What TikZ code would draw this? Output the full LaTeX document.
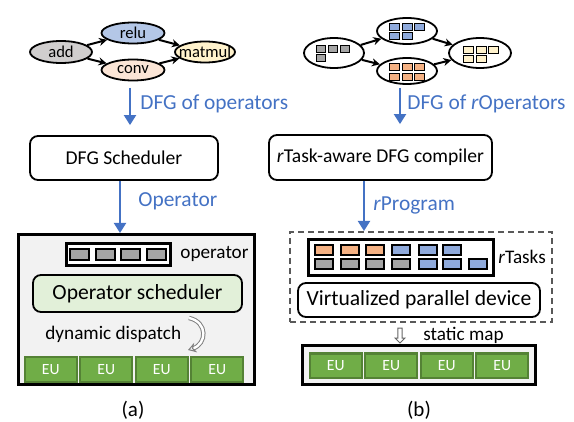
\documentclass[tikz,border=0pt]{standalone}
\usepackage{fontspec}
\setmainfont{Carlito}
\usetikzlibrary{arrows.meta,positioning,shapes.geometric,shapes.arrows,calc}
\definecolor{azulflecha}{RGB}{68,114,196}
\definecolor{grisop}{RGB}{165,165,165}
\definecolor{grisadd}{RGB}{208,206,206}
\definecolor{azulrelu}{RGB}{180,199,231}
\definecolor{rosaconv}{RGB}{251,229,214}
\definecolor{amarillomm}{RGB}{255,242,204}
\definecolor{naranja}{RGB}{244,177,131}
\definecolor{azultarea}{RGB}{143,170,220}
\definecolor{verdeeu}{RGB}{112,173,71}
\definecolor{verdeosc}{RGB}{84,130,53}
\definecolor{verdeclaro}{RGB}{226,240,217}
\definecolor{fondo}{RGB}{242,242,242}
\tikzset{
  caja/.style={rectangle,rounded corners=4pt,draw=black,line width=0.9pt,fill=white,
    align=center,inner sep=0pt,font=\fontsize{9.8}{11}\selectfont},
  elipse/.style={ellipse,draw=black,line width=0.9pt,inner sep=0pt,
    label={[font=\fontsize{8.3}{9}\selectfont]center:#1}},
  flecha/.style={-{Stealth[length=4pt,width=4pt]},black,line width=1pt},
  flechaazul/.style={-{Triangle[length=5pt,width=6pt]},azulflecha,line width=1pt},
  etiqueta/.style={text=azulflecha,font=\fontsize{10.7}{12}\selectfont,anchor=west,inner sep=0pt},
  texto/.style={font=\fontsize{9.6}{11}\selectfont,anchor=west,inner sep=0pt},
  panel/.style={rectangle,draw=black,line width=1.5pt,fill=fondo,inner sep=0pt},
  cola/.style={rectangle,draw=black,line width=1.5pt,fill=white,inner sep=0pt},
  cuadrito/.style={draw=black,line width=0.45pt},
  celda/.style={draw=black,line width=1pt},
  eu/.style={rectangle,fill=verdeeu,draw=verdeosc,line width=1.2pt,inner sep=0pt,
    minimum width=26pt,minimum height=12.3pt,text=white,font=\fontsize{7.8}{8}\selectfont},
  despacho/.style={draw=gray,double=white,double distance=1.2pt,line width=0.5pt,
    -{Stealth[open,length=4pt,width=5pt]}},
}
\begin{document}
\begin{tikzpicture}[x=0.5pt,y=-0.5pt]
  \useasboundingbox (0,0) rectangle (574,422);
  % (a) grafo de operadores
  \node[elipse=add,fill=grisadd,minimum width=31pt,minimum height=11pt] (add) at (61,52) {};
  \node[elipse=relu,fill=azulrelu,minimum width=31.5pt,minimum height=10.5pt] (relu) at (133,33) {};
  \node[elipse=conv,fill=rosaconv,minimum width=31.5pt,minimum height=10.5pt] (conv) at (133,70) {};
  \node[elipse=matmul,fill=amarillomm,minimum width=30pt,minimum height=10.5pt] (matmul) at (205,52) {};
  \draw[flecha] (add) -- (relu); \draw[flecha] (add) -- (conv);
  \draw[flecha] (relu) -- (matmul); \draw[flecha] (conv) -- (matmul);
  \coordinate (iniA) at (130,88);
  \node[caja,minimum width=94pt,minimum height=22pt] (sched) at (124,158) {DFG Scheduler};
  \draw[flechaazul,shorten >=5pt] (iniA) -- (iniA |- sched.north);
  \node[etiqueta] (labA) at (140,104) {DFG of operators};
  \node[panel,minimum width=118pt,minimum height=75pt] (panelA) at (136.5,309.5) {};
  \coordinate (ejeA) at (120,0);
  \draw[flechaazul] (sched.south -| ejeA) -- (panelA.north -| ejeA);
  \node[etiqueta] (labB) at (138,201) {Operator};
  \node[cola,minimum width=52pt,minimum height=11pt] (cola) at (118.5,254.5) {};
  \foreach \x in {70,96,121,147}
    \draw[celda,fill=grisop] (\x,249) rectangle ++(19,11);
  \node[texto] (opt) at (180,254) {operator};
  \node[caja,fill=verdeclaro,minimum width=104.5pt,minimum height=18.5pt,
    font=\fontsize{10.8}{12}\selectfont] (opsched) at (137.5,293.5) {Operator scheduler};
  \node[texto] (din) at (45,334) {dynamic dispatch};
  \coordinate (dispA) at (189,318);
  \coordinate (dispB) at (188,350);
  \draw[despacho] (dispA) .. controls (208,322) and (207,344) .. (dispB);
  \foreach \i/\x in {1/50.75,2/106.25,3/161.75,4/217.25}
    \node[eu] (eua\i) at (\x,369.5) {EU};
  \node[font=\fontsize{10.5}{12}\selectfont] (capa) at (133,410) {(a)};

  % (b) grafo de rOperators
  \node[elipse=,fill=white,minimum width=30pt,minimum height=15pt] (gl) at (334,53) {};
  \node[elipse=,fill=white,minimum width=30pt,minimum height=13pt] (gt) at (407,31) {};
  \node[elipse=,fill=white,minimum width=30pt,minimum height=13pt] (gb) at (407,71) {};
  \node[elipse=,fill=white,minimum width=31pt,minimum height=15pt] (gr) at (480,53) {};
  \foreach \x/\y in {316/45,328/45,340/45,316/54}
    \draw[cuadrito,fill=grisop] (\x,\y) rectangle ++(9,7);
  \foreach \x/\y in {389/23,402/23,414/23,389/32,402/32}
    \draw[cuadrito,fill=azultarea] (\x,\y) rectangle ++(10,7);
  \foreach \x/\y in {389/63,402/63,414/63,389/73,402/73,414/73}
    \draw[cuadrito,fill=naranja] (\x,\y) rectangle ++(10,7);
  \foreach \x/\y in {463/46,476/46,488/46,463/55,476/55}
    \draw[cuadrito,fill=amarillomm] (\x,\y) rectangle ++(10,7);
  \draw[flecha] (gl) -- (gt); \draw[flecha] (gl) -- (gb);
  \draw[flecha] (gt) -- (gr); \draw[flecha] (gb) -- (gr);
  \coordinate (iniB) at (400,88);
  \node[caja,minimum width=111.5pt,minimum height=22.5pt] (comp) at (380.5,157.5)
    {\textit{r}Task-aware DFG compiler};
  \draw[flechaazul,shorten >=5pt] (iniB) -- (iniB |- comp.north);
  \node[etiqueta] (labC) at (407,104) {DFG of \textit{r}Operators};
  \node[draw=black!65,dashed,dash pattern=on 3pt off 2pt,line width=1pt,
    minimum width=131pt,minimum height=45pt] (dash) at (421,277) {};
  \coordinate (ejeB) at (364,0);
  \draw[flechaazul] (comp.south -| ejeB) -- (dash.north -| ejeB);
  \node[etiqueta] (labD) at (373,205) {\textit{r}Program};
  \node[cola,minimum width=92.5pt,minimum height=18pt] (tareas) at (401,257.5) {};
  \foreach \x in {315,341,366}
    \draw[celda,fill=naranja] (\x,245) rectangle ++(18,10);
  \foreach \x in {392,419,443}
    \draw[celda,fill=azultarea] (\x,245) rectangle ++(18,10);
  \foreach \x in {315,341,366,392}
    \draw[celda,fill=grisop] (\x,259) rectangle ++(18,10);
  \foreach \x in {419,443,469}
    \draw[celda,fill=azultarea] (\x,259) rectangle ++(18,10);
  \node[texto] (rt) at (498,257) {\textit{r}Tasks};
  \node[caja,minimum width=121pt,minimum height=17pt,
    font=\fontsize{10.8}{12}\selectfont] (vpd) at (419,300) {Virtualized parallel device};
  \node[panel,minimum width=116.5pt,minimum height=19.5pt] (panelB) at (419,365) {};
  \node[single arrow,draw=black!60,fill=white,line width=0.5pt,shape border rotate=270,
    minimum height=7.5pt,minimum width=5pt,inner sep=0.7pt,single arrow head extend=1.4pt]
    (mapa) at (400,334.5) {};
  \node[texto] (sm) at (423,335) {static map};
  \foreach \i/\x in {1/335.75,2/391.25,3/446.75,4/502.25}
    \node[eu] (eub\i) at (\x,366) {EU};
  \node[font=\fontsize{10.5}{12}\selectfont] (capb) at (419,410) {(b)};
\end{tikzpicture}
\end{document}
